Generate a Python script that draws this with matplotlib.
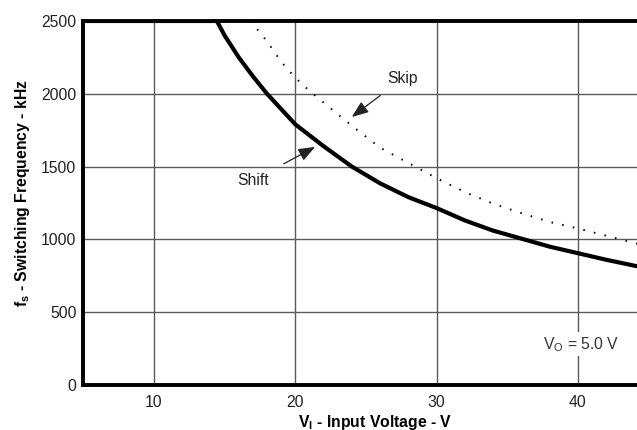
import matplotlib
matplotlib.use("Agg")
import matplotlib.pyplot as plt

plt.rcParams['font.family'] = ['Liberation Sans', 'DejaVu Sans']
plt.rcParams['mathtext.fontset'] = 'custom'
plt.rcParams['mathtext.rm'] = 'Liberation Sans'
plt.rcParams['mathtext.it'] = 'Liberation Sans:italic'
plt.rcParams['mathtext.bf'] = 'Liberation Sans:bold'

# Shift mode curve (solid)
shift_v = [5, 14.45, 15, 16, 17, 18, 19, 20, 22, 24, 26, 28, 30, 32, 34, 36, 38, 40, 42, 44.2]
shift_f = [2500, 2500, 2400, 2250, 2120, 2000, 1895, 1790, 1640, 1500, 1385, 1290, 1215, 1130, 1060, 1005, 950, 905, 860, 815]

# Skip mode curve (dotted)
skip_v = [16.8, 17, 18, 19, 20, 21, 22, 24, 26, 28, 30, 32, 34, 36, 38, 40, 42, 44.2]
skip_f = [2500, 2480, 2360, 2220, 2110, 2020, 1940, 1780, 1630, 1525, 1420, 1325, 1245, 1180, 1120, 1075, 1025, 970]

xticks = [10, 20, 30, 40]
yticks = [0, 500, 1000, 1500, 2000, 2500]

fs = 11.3
fig = plt.figure(figsize=(6.37, 4.30), dpi=100)
ax = fig.add_axes([0.1308, 0.1047, 0.8697, 0.8465])

ax.plot(shift_v, shift_f, color='black', lw=3.0, solid_capstyle='butt', zorder=3)
ax.plot(skip_v, skip_f, color='black', lw=1.4, linestyle=(0, (0.8, 4.8)), zorder=3)

ax.set_xlim(5, 44.2)
ax.set_ylim(0, 2500)
ax.set_xticks(xticks)
ax.set_yticks(yticks)
ax.grid(True, color='#5a5a5a', lw=1.0)
ax.set_axisbelow(True)
ax.tick_params(length=0, labelsize=fs, labelcolor='#222222')
ax.tick_params(axis='x', pad=7)
ax.tick_params(axis='y', pad=5)

for s in ['left', 'bottom', 'top']:
    ax.spines[s].set_linewidth(2.8)
    ax.spines[s].set_color('black')
ax.spines['right'].set_visible(False)

ax.set_xlabel(r'V$_\mathbf{I}$ - Input Voltage - V', fontsize=fs, fontweight='bold')
ax.set_ylabel(r'f$_\mathbf{s}$ - Switching Frequency - kHz', fontsize=fs, fontweight='bold')
ax.xaxis.set_label_coords(0.526, -0.076)
ax.yaxis.set_label_coords(-0.092, 0.526)

arrow = dict(arrowstyle='-|>,head_length=0.9,head_width=0.35', color='#222222', lw=0.9, shrinkB=0)
ax.annotate('Skip', xy=(24.0, 1841), xytext=(27.6, 2105), fontsize=fs, color='#222222',
            ha='center', va='center', arrowprops=dict(arrow, shrinkA=8))
ax.annotate('Shift', xy=(21.4, 1635), xytext=(17.0, 1405), fontsize=fs, color='#222222',
            ha='center', va='center', arrowprops=dict(arrow, shrinkA=10))

ax.text(40.2, 280, r'V$_\mathrm{O}$ = 5.0 V', fontsize=fs, color='#333333', ha='center', va='center',
        bbox=dict(facecolor='white', edgecolor='none', pad=2))

plt.savefig('out.png', dpi=100)
